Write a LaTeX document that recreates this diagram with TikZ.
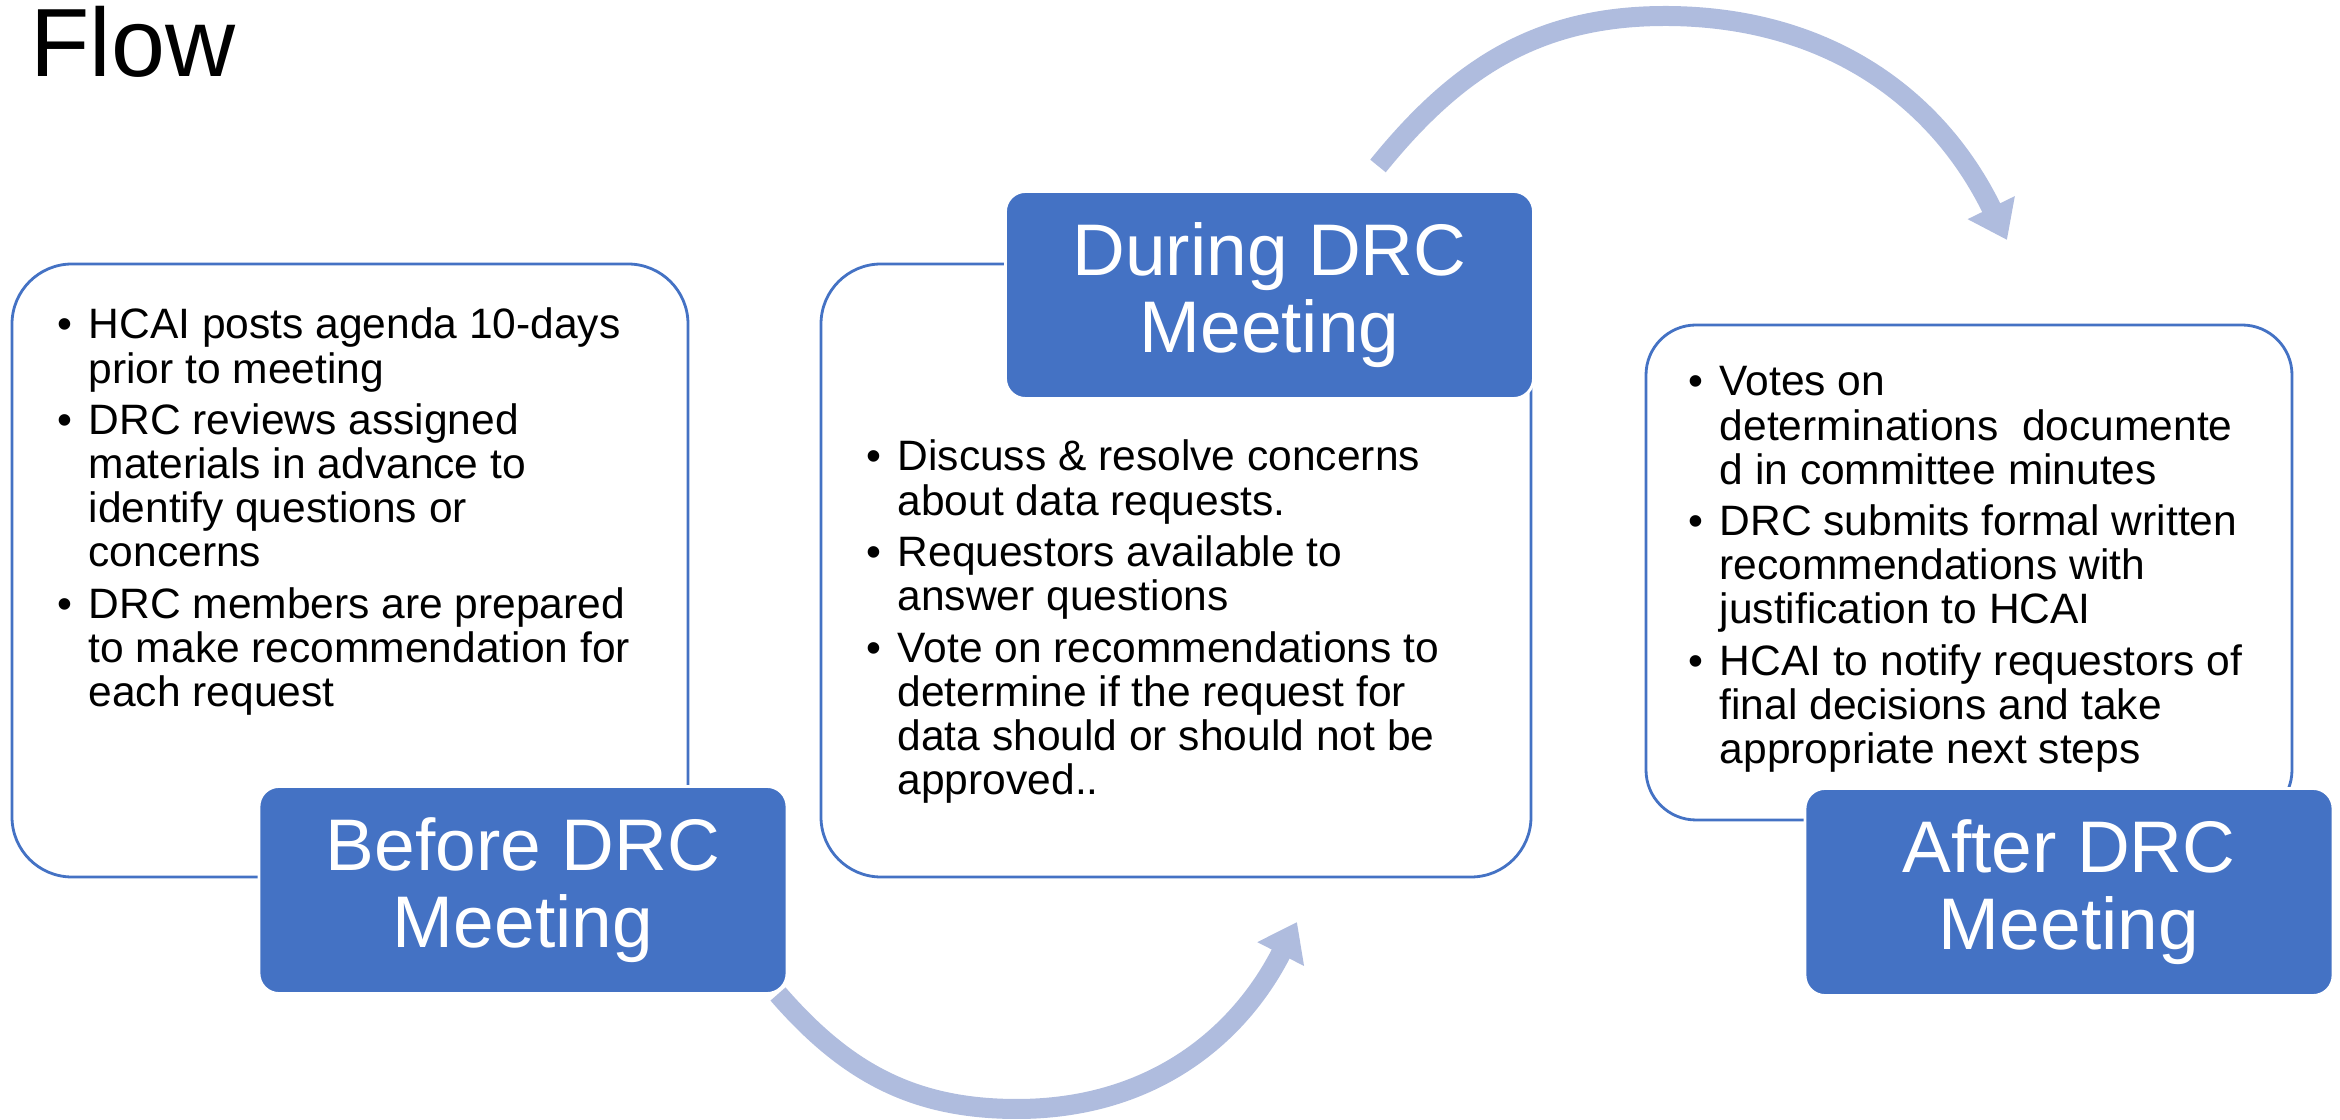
\documentclass[tikz,border=0pt]{standalone}
\usepackage{fontspec}
\setmainfont{Liberation Sans}
\usepackage{xcolor}
\usetikzlibrary{arrows.meta}
\definecolor{drcblue}{RGB}{68,114,196}
\definecolor{drcarrow}{RGB}{175,188,222}
\newcommand{\bul}{\makebox[0.31cm][l]{\textbullet}}

\begin{document}
\begin{tikzpicture}[
    card/.style={rectangle,draw=drcblue,fill=white,line width=0.8pt,rounded corners=#1},
    tag/.style={rectangle,draw=white,fill=drcblue,line width=0.8pt,rounded corners=0.2cm,minimum width=5.28cm,minimum height=2.07cm,inner sep=0,text=white,align=center,font=\fontsize{20.8}{21.9}\selectfont},
    points/.style={anchor=base west,inner sep=0,font=\fontsize{12.1}{12.52}\selectfont},
    turnarrow/.style={draw=drcarrow,line width=0.2cm,-{Triangle[width=0.5cm,length=0.36cm]}}
]
    \useasboundingbox (0,0) rectangle (23.4,11.2);

    \node[anchor=base west,inner sep=0,font=\fontsize{27.6}{30}\selectfont] (title) at (0.30,10.43) {Flow};

    \coordinate (a1s) at (7.78,1.26);
    \coordinate (a1m) at (10.17,0.11);
    \coordinate (a1e) at (12.97,1.98);
    \coordinate (a2s) at (13.78,9.54);
    \coordinate (a2m) at (16.65,11.04);
    \coordinate (a2e) at (20.07,8.80);
    \draw[turnarrow] (a1s) to[out=-49,in=180] (a1m) to[out=0,in=243] (a1e);
    \draw[turnarrow] (a2s) to[out=51,in=180] (a2m) to[out=0,in=116] (a2e);

    \node[card=0.6cm,minimum width=6.76cm,minimum height=6.13cm] (box1) at (3.50,5.495) {};
    \node[card=0.6cm,minimum width=7.10cm,minimum height=6.13cm] (box2) at (11.76,5.495) {};
    \node[card=0.5cm,minimum width=6.46cm,minimum height=4.95cm] (box3) at (19.69,5.475) {};

    \node[points] (list1) at (0.57,7.81) {\begin{tabular}[t]{@{}l@{}l@{}}
        \bul & HCAI posts agenda 10-days\\
             & prior to meeting\\[2.2pt]
        \bul & DRC reviews assigned\\
             & materials in advance to\\
             & identify questions or\\
             & concerns\\[2.2pt]
        \bul & DRC members are prepared\\
             & to make recommendation for\\
             & each request
    \end{tabular}};
    \node[points] (list2) at (8.66,6.49) {\begin{tabular}[t]{@{}l@{}l@{}}
        \bul & Discuss \& resolve concerns\\
             & about data requests.\\[2.2pt]
        \bul & Requestors available to\\
             & answer questions\\[2.2pt]
        \bul & Vote on recommendations to\\
             & determine if the request for\\
             & data should or should not be\\
             & approved..
    \end{tabular}};
    \node[points] (list3) at (16.88,7.24) {\begin{tabular}[t]{@{}l@{}l@{}}
        \bul & Votes on\\
             & determinations\ \ documente\\
             & d in committee minutes\\[2.2pt]
        \bul & DRC submits formal written\\
             & recommendations with\\
             & justification to HCAI\\[2.2pt]
        \bul & HCAI to notify requestors of\\
             & final decisions and take\\
             & appropriate next steps
    \end{tabular}};

    \node[tag] (before) at (5.23,2.30) {Before DRC\\Meeting};
    \node[tag] (during) at (12.695,8.25) {During DRC\\Meeting};
    \node[tag] (after) at (20.69,2.28) {After DRC\\Meeting};
\end{tikzpicture}
\end{document}
